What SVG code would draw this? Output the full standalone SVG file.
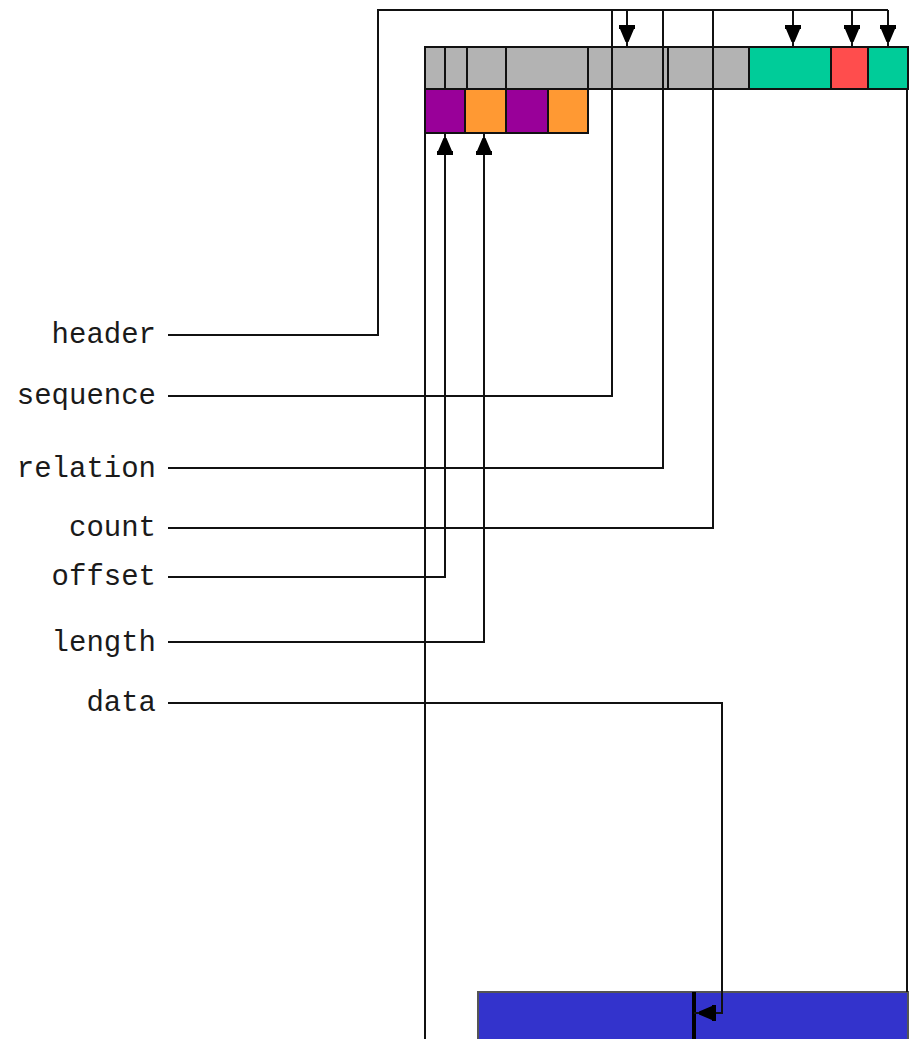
<svg xmlns="http://www.w3.org/2000/svg" width="916" height="1039" viewBox="0 0 916 1039">
<style>
.lbl{font-family:"Liberation Mono","DejaVu Sans Mono",monospace;font-size:29px;fill:#1a1a1a;text-anchor:end}
.box{stroke:#111;stroke-width:2}
.gray{fill:#B3B3B3}.green{fill:#00CC99}.red{fill:#FF4D4D}.purple{fill:#990099}.orange{fill:#FF9933}.blue{fill:#3333CC}
.ln{fill:none;stroke:#111;stroke-width:2}
</style>
<defs>
<marker id="ah" viewBox="0 -10 24 20" refX="22" refY="0" markerWidth="24" markerHeight="20" markerUnits="userSpaceOnUse" orient="auto">
<path d="M0,-8 L4,-8 L4,-7 L17,-1.5 L17,1.5 L4,7 L4,8 L0,8 Z" transform="translate(0,0)" fill="#000"/>
</marker>
</defs>
<rect width="916" height="1039" fill="#fff"/>
<g id="record">
<rect class="box gray" x="425" y="47" width="20" height="42"/>
<rect class="box gray" x="445" y="47" width="22" height="42"/>
<rect class="box gray" x="467" y="47" width="39" height="42"/>
<rect class="box gray" x="506" y="47" width="82" height="42"/>
<rect class="box gray" x="588" y="47" width="80" height="42"/>
<rect class="box gray" x="668" y="47" width="81" height="42"/>
<rect class="box green" x="749" y="47" width="82" height="42"/>
<rect class="box red" x="831" y="47" width="37" height="42"/>
<rect class="box green" x="868" y="47" width="40" height="42"/>
</g>
<g id="items">
<rect class="box purple" x="425" y="89" width="40" height="44"/>
<rect class="box orange" x="465" y="89" width="41" height="44"/>
<rect class="box purple" x="506" y="89" width="42" height="44"/>
<rect class="box orange" x="548" y="89" width="40" height="44"/>
</g>
<g id="datablock">
<rect x="478" y="992" width="430" height="52" fill="#3333CC" stroke="#555" stroke-width="2"/>
<line x1="694" y1="992" x2="694" y2="1039" stroke="#000" stroke-width="4"/>
</g>
<g id="labels">
<text class="lbl" x="156" y="343">header</text>
<text class="lbl" x="156" y="404">sequence</text>
<text class="lbl" x="156" y="477">relation</text>
<text class="lbl" x="156" y="536">count</text>
<text class="lbl" x="156" y="585">offset</text>
<text class="lbl" x="156" y="651">length</text>
<text class="lbl" x="156" y="711">data</text>
</g>
<g id="connectors">
<path class="ln" d="M168,335 H378 V10 H888"/>
<path class="ln" d="M168,396 H612 V10"/>
<path class="ln" d="M168,468 H663 V10"/>
<path class="ln" d="M168,528 H713 V10"/>
<path class="ln" d="M627,10 V47" marker-end="url(#ah)"/>
<path class="ln" d="M793,10 V47" marker-end="url(#ah)"/>
<path class="ln" d="M852,10 V47" marker-end="url(#ah)"/>
<path class="ln" d="M888,10 V47" marker-end="url(#ah)"/>
<path class="ln" d="M168,577 H445 V133" marker-end="url(#ah)"/>
<path class="ln" d="M168,642 H484 V133" marker-end="url(#ah)"/>
<path class="ln" d="M168,703 H722 V1013 H694" marker-end="url(#ah)"/>
<path class="ln" d="M425,133 V1039"/>
<path class="ln" d="M907,89 V992"/>
</g>
</svg>
